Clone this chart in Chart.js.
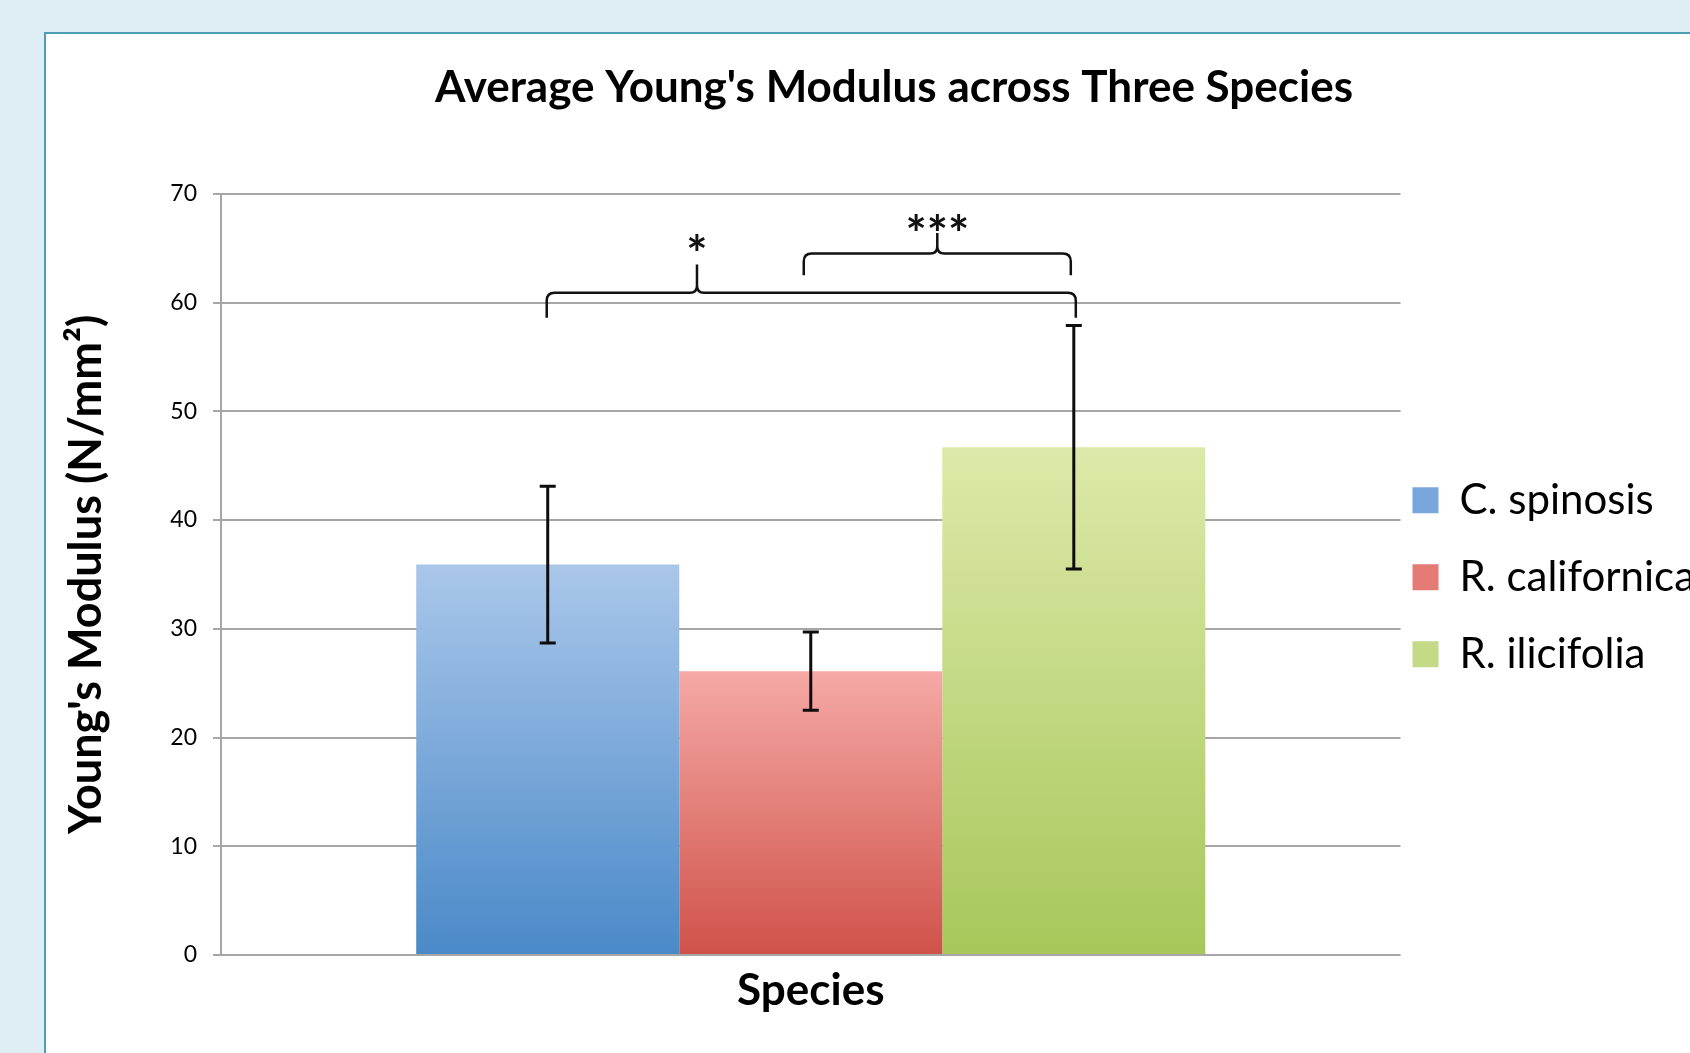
<!DOCTYPE html>
<html>
<head>
<meta charset="utf-8">
<title>Average Young's Modulus across Three Species</title>
<script src="https://cdn.jsdelivr.net/npm/chart.js@4.4.1/dist/chart.umd.min.js"></script>
<style>
  html, body { margin: 0; padding: 0; }
  body { width: 1690px; height: 1053px; overflow: hidden; background: #dfeef5; position: relative; }
  .frame { position: absolute; left: 44px; top: 32px; width: 1800px; height: 1200px; background: #fff; border: 2px solid #4f9db4; }
  #chart { position: absolute; left: 46px; top: 34px; }
</style>
</head>
<body>
<div class="frame"></div>
<canvas id="chart"></canvas>
<script>
// valores
const categories = [''];
const species = ['C. spinosis', 'R. californica', 'R. ilicifolia'];
const meanModulus = [35.9, 26.1, 46.7];
const errModulus = [7.2, 3.6, 11.2];
const yMin = 0, yMax = 70, yStep = 10;
const sigPairs = [[0, 2], [1, 2]];
const sigLabels = ['*', '***'];

// colores (arriba -> abajo del degradado)
const barColors = [
  ['#aac7ea', '#4a89c8'],
  ['#f5a9a6', '#cf5249'],
  ['#dde9aa', '#a7c75a'],
];
const swatchColors = ['#79a6dc', '#e57b75', '#c4da86'];

const FONT = 'Lato, "Open Sans", sans-serif';
const LEGEND_SIZE = 42, LEGEND_PAD = 12, BOX_W = 26;
const STAR_SIZE = 50;

// ancho del canvas para que la leyenda y el titulo caigan donde deben
const mctx = document.createElement('canvas').getContext('2d');
mctx.font = LEGEND_SIZE + 'px ' + FONT;
const legendText = Math.max(...species.map(s => mctx.measureText(s).width));
const legendW = LEGEND_PAD + BOX_W + LEGEND_SIZE / 2 + legendText + 10;
const canvasW = Math.round(1355 + legendW);
const padLeft = 1696 - canvasW;

const canvas = document.getElementById('chart');
canvas.width = canvasW;
canvas.height = 1019;

function barGradient(ctx, i) {
  const chart = ctx.chart;
  const y = chart.scales.y;
  if (!y || !chart.chartArea) return barColors[i][1];
  const top = y.getPixelForValue(meanModulus[i]);
  const bottom = y.getPixelForValue(0);
  const g = chart.ctx.createLinearGradient(0, top, 0, bottom);
  g.addColorStop(0, barColors[i][0]);
  g.addColorStop(1, barColors[i][1]);
  return g;
}

// barras de error + llaves de significancia
const braces = [
  { foot: 58.6, level: 60.9, tip: 63.5, star: 65.5, at: 0.284, nudge: [-1, 2] },
  { foot: 62.5, level: 64.5, tip: 66.4, star: 67.3, at: 0.5, nudge: [-7, -3] },
];

const annotate = {
  id: 'annotate',
  afterDatasetsDraw(chart) {
    const { ctx, scales: { y } } = chart;
    const cx = i => chart.getDatasetMeta(i).data[0].x;
    ctx.save();
    ctx.strokeStyle = '#0d0d0d';
    ctx.lineWidth = 3;
    meanModulus.forEach((m, i) => {
      const x = cx(i);
      const hi = y.getPixelForValue(m + errModulus[i]);
      const lo = y.getPixelForValue(m - errModulus[i]);
      ctx.beginPath();
      ctx.moveTo(x, hi); ctx.lineTo(x, lo);
      ctx.moveTo(x - 8, hi); ctx.lineTo(x + 8, hi);
      ctx.moveTo(x - 8, lo); ctx.lineTo(x + 8, lo);
      ctx.stroke();
    });

    ctx.lineWidth = 2.5;
    ctx.strokeStyle = '#111';
    sigPairs.forEach((p, k) => {
      const b = braces[k];
      const x0 = cx(p[0]) + b.nudge[0];
      const x1 = cx(p[1]) + b.nudge[1];
      const xt = x0 + (x1 - x0) * b.at;
      const yf = y.getPixelForValue(b.foot);
      const yl = y.getPixelForValue(b.level);
      const yt = y.getPixelForValue(b.tip);
      const r = 8, rt = 7;
      ctx.beginPath();
      ctx.moveTo(x0, yf);
      ctx.lineTo(x0, yl + r);
      ctx.quadraticCurveTo(x0, yl, x0 + r, yl);
      ctx.lineTo(xt - rt, yl);
      ctx.quadraticCurveTo(xt, yl, xt, yl - rt);
      ctx.lineTo(xt, yt);
      ctx.moveTo(xt, yl - rt);
      ctx.quadraticCurveTo(xt, yl, xt + rt, yl);
      ctx.lineTo(x1 - r, yl);
      ctx.quadraticCurveTo(x1, yl, x1, yl + r);
      ctx.lineTo(x1, yf);
      ctx.stroke();

      ctx.fillStyle = '#111';
      ctx.font = 'bold ' + STAR_SIZE + 'px ' + FONT;
      ctx.textAlign = 'center';
      ctx.textBaseline = 'middle';
      ctx.fillText(sigLabels[k], xt, y.getPixelForValue(b.star) + 0.255 * STAR_SIZE);
    });
    ctx.restore();
  }
};

new Chart(canvas, {
  type: 'bar',
  data: {
    labels: categories,
    datasets: species.map((s, i) => ({
      label: s,
      data: [meanModulus[i]],
      backgroundColor: ctx => barGradient(ctx, i),
      borderWidth: 0,
      categoryPercentage: 0.669,
      barPercentage: 1,
    })),
  },
  options: {
    responsive: false,
    animation: false,
    layout: { padding: { left: padLeft, right: 0, top: 0, bottom: 0 } },
    plugins: {
      title: {
        display: true,
        text: "Average Young's Modulus across Three Species",
        color: '#000',
        font: { family: FONT, size: 44, weight: 'bold' },
        padding: { top: 27, bottom: 80 },
      },
      legend: {
        position: 'right',
        align: 'center',
        title: { display: true, text: '', font: { size: 10 }, padding: 39.3 },
        labels: {
          font: { family: FONT, size: LEGEND_SIZE, lineHeight: 65 / LEGEND_SIZE },
          color: '#000',
          boxWidth: BOX_W,
          boxHeight: 26,
          padding: LEGEND_PAD,
          generateLabels: () => species.map((s, i) => ({
            text: [s],
            fillStyle: swatchColors[i],
            strokeStyle: swatchColors[i],
            fontColor: '#000',
            lineWidth: 0,
            datasetIndex: i,
            hidden: false,
          })),
        },
      },
      tooltip: { enabled: false },
    },
    scales: {
      x: {
        ticks: { display: false },
        grid: { display: false, drawTicks: false },
        border: { display: false },
        title: {
          display: true,
          text: 'Species',
          color: '#000',
          font: { family: FONT, size: 44, weight: 'bold' },
          padding: { top: 9.6, bottom: 35.6 },
        },
      },
      y: {
        min: yMin,
        max: yMax,
        ticks: {
          stepSize: yStep,
          color: '#000',
          padding: 16,
          font: { family: FONT, size: 23 },
        },
        grid: { color: '#a6a6a6', lineWidth: 2, tickLength: 8 },
        border: { color: '#a6a6a6', width: 2 },
        title: {
          display: true,
          text: "Young's Modulus (N/mm\u00b2)",
          color: '#000',
          font: { family: FONT, size: 45, weight: 'bold' },
          padding: { top: 13 - padLeft, bottom: 10 },
        },
        afterFit: s => { s.width = 175 - padLeft; },
      },
    },
  },
  plugins: [annotate],
});
</script>
</body>
</html>
